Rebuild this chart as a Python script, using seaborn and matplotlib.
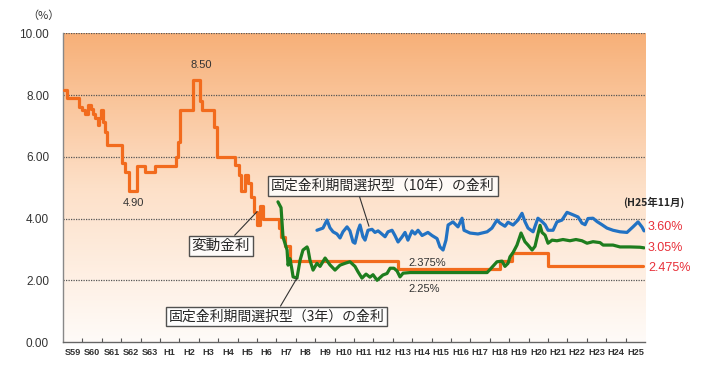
import numpy as np
import matplotlib
matplotlib.use("Agg")
import matplotlib.pyplot as plt
from matplotlib.colors import LinearSegmentedColormap
import seaborn as sns

# 変動金利 (orange) - change points, drawn as steps
var_year = [1984.05, 1984.20, 1984.85, 1985.00, 1985.15, 1985.30, 1985.45, 1985.55,
            1985.65, 1985.78, 1985.88, 1985.98, 1986.05, 1986.15, 1986.25, 1987.05,
            1987.20, 1987.40, 1987.80, 1988.25, 1988.75, 1989.80, 1989.95, 1990.05,
            1990.70, 1991.05, 1991.15, 1991.80, 1991.95, 1992.85, 1993.05, 1993.20,
            1993.40, 1993.55, 1993.70, 1993.85, 1993.98, 1994.15, 1994.30, 1995.15,
            1995.25, 1995.45, 1995.70, 2001.25, 2006.55, 2007.15, 2009.00, 2013.92]
var_rate = [8.16, 7.92, 7.62, 7.50, 7.38, 7.68, 7.56, 7.38,
            7.26, 7.02, 7.26, 7.50, 7.12, 6.80, 6.38, 5.80,
            5.50, 4.90, 5.70, 5.50, 5.70, 6.00, 6.48, 7.50,
            8.50, 7.80, 7.50, 6.96, 6.00, 5.75, 5.40, 4.90,
            5.40, 5.15, 4.70, 4.20, 3.80, 4.40, 4.00, 3.70,
            3.40, 3.10, 2.625, 2.375, 2.625, 2.875, 2.475, 2.475]

# 固定金利期間選択型(3年) (green)
fix3_year = [1995.08, 1995.24, 1995.34, 1995.55, 1995.60, 1995.70, 1995.80, 1995.86,
             1996.06, 1996.22, 1996.37, 1996.58, 1996.63, 1996.73, 1996.89, 1997.09,
             1997.25, 1997.51, 1997.76, 1998.02, 1998.28, 1998.54, 1998.79, 1999.05,
             1999.21, 1999.41, 1999.62, 1999.82, 1999.98, 2000.19, 2000.49, 2000.70,
             2000.86, 2001.06, 2001.22, 2001.37, 2001.53, 2001.89, 2005.86, 2006.01,
             2006.37, 2006.63, 2006.78, 2006.94, 2007.04, 2007.20, 2007.40, 2007.61,
             2007.81, 2007.97, 2008.18, 2008.33, 2008.43, 2008.59, 2008.69, 2008.85,
             2009.00, 2009.21, 2009.46, 2009.77, 2010.13, 2010.44, 2010.75, 2011.01,
             2011.32, 2011.68, 2011.84, 2012.35, 2012.71, 2013.23, 2013.74, 2013.95]
fix3_rate = [4.54, 4.35, 3.40, 2.98, 2.49, 2.70, 2.35, 2.11,
             2.07, 2.65, 2.98, 3.08, 3.00, 2.65, 2.33, 2.55,
             2.45, 2.72, 2.50, 2.33, 2.49, 2.55, 2.60, 2.45,
             2.27, 2.07, 2.20, 2.10, 2.18, 2.00, 2.17, 2.22,
             2.39, 2.39, 2.30, 2.11, 2.23, 2.25, 2.25, 2.35,
             2.60, 2.62, 2.45, 2.55, 2.76, 2.90, 3.14, 3.53,
             3.25, 3.14, 2.98, 3.10, 3.37, 3.78, 3.55, 3.46,
             3.20, 3.30, 3.28, 3.32, 3.28, 3.32, 3.28, 3.20,
             3.25, 3.22, 3.14, 3.14, 3.08, 3.08, 3.07, 3.05]

# 固定金利期間選択型(10年) (blue)
fix10_year = [1997.09, 1997.40, 1997.61, 1997.76, 1997.92, 1998.12, 1998.28, 1998.43,
              1998.64, 1998.79, 1998.95, 1999.05, 1999.21, 1999.31, 1999.46, 1999.57,
              1999.72, 1999.93, 2000.08, 2000.24, 2000.34, 2000.60, 2000.75, 2000.96,
              2001.11, 2001.27, 2001.47, 2001.63, 2001.78, 2001.99, 2002.14, 2002.30,
              2002.51, 2002.66, 2002.81, 2003.02, 2003.28, 2003.43, 2003.59, 2003.74,
              2003.85, 2004.10, 2004.36, 2004.57, 2004.67, 2004.98, 2005.39, 2005.86,
              2006.11, 2006.37, 2006.53, 2006.78, 2006.94, 2007.20, 2007.45, 2007.66,
              2007.81, 2007.97, 2008.23, 2008.48, 2008.69, 2008.85, 2009.00, 2009.26,
              2009.46, 2009.72, 2009.98, 2010.29, 2010.55, 2010.75, 2010.91, 2011.06,
              2011.32, 2011.53, 2011.78, 2012.04, 2012.35, 2012.71, 2013.07, 2013.38,
              2013.64, 2013.85, 2013.95]
fix10_rate = [3.62, 3.69, 3.95, 3.70, 3.57, 3.50, 3.37, 3.57,
              3.73, 3.60, 3.24, 3.20, 3.62, 3.79, 3.41, 3.30,
              3.62, 3.65, 3.55, 3.60, 3.55, 3.41, 3.57, 3.62,
              3.45, 3.24, 3.40, 3.55, 3.30, 3.60, 3.50, 3.62,
              3.45, 3.50, 3.55, 3.45, 3.35, 3.08, 2.98, 3.30,
              3.79, 3.89, 3.73, 4.01, 3.62, 3.53, 3.50, 3.57,
              3.69, 3.95, 3.85, 3.75, 3.88, 3.79, 3.95, 4.17,
              3.90, 3.69, 3.57, 4.01, 3.90, 3.80, 3.62, 3.62,
              3.89, 3.95, 4.20, 4.12, 4.05, 3.85, 3.80, 4.00,
              4.01, 3.90, 3.80, 3.69, 3.62, 3.57, 3.55, 3.73,
              3.89, 3.72, 3.60]

year_labels = ["S59", "S60", "S61", "S62", "S63", "H1", "H2", "H3", "H4", "H5",
               "H6", "H7", "H8", "H9", "H10", "H11", "H12", "H13", "H14", "H15",
               "H16", "H17", "H18", "H19", "H20", "H21", "H22", "H23", "H24", "H25"]
first_year = 1984
y_ticks = [0, 2, 4, 6, 8, 10]

C_ORANGE = "#F26B1D"
C_GREEN = "#1E7D1E"
C_BLUE = "#2272C3"
C_RED = "#E8303A"
JP = ["Noto Sans CJK JP", "DejaVu Sans"]
NUM = ["Liberation Sans", "DejaVu Sans"]

sns.set_style("white")
plt.rcParams["font.family"] = JP

fig = plt.figure(figsize=(7.11, 3.78), dpi=100)
ax = fig.add_axes([0.0886, 0.0952, 0.8186, 0.8167])

x0, x1 = first_year, first_year + len(year_labels)

# orange gradient background
grad = np.linspace(0, 1, 256).reshape(-1, 1)
cmap_bg = LinearSegmentedColormap.from_list("bg", ["#FFFBF8", "#FDE0C8", "#F7B078"])
ax.imshow(grad, extent=[x0, x1, 0, 10], origin="lower", aspect="auto",
          cmap=cmap_bg, zorder=0)

# dotted grid lines
for v in y_ticks[1:]:
    ax.axhline(v, color="#555555", lw=0.9, ls=(0, (1, 1)), zorder=1)

sns.lineplot(x=var_year, y=var_rate, color=C_ORANGE, lw=2.3,
             drawstyle="steps-post", ax=ax, zorder=3)
sns.lineplot(x=fix10_year, y=fix10_rate, color=C_BLUE, lw=2.3, ax=ax, zorder=4)
sns.lineplot(x=fix3_year, y=fix3_rate, color=C_GREEN, lw=2.3, ax=ax, zorder=5)

ax.set_xlim(x0, x1)
ax.set_ylim(0, 10)

# x axis: labels at year centres, small inner ticks at year boundaries
ax.set_xticks([first_year + i + 0.5 for i in range(len(year_labels))])
ax.set_xticklabels(year_labels, family=NUM, fontweight="bold",
                   fontsize=6.6, color="#333333")
ax.set_xticks([first_year + i for i in range(1, len(year_labels))], minor=True)
ax.tick_params(axis="x", which="major", length=0, pad=4)
ax.tick_params(axis="x", which="minor", direction="in", length=3,
               width=0.8, color="#555555", bottom=True)

ax.set_yticks(y_ticks)
ax.set_yticklabels([f"{v:.2f}" for v in y_ticks], family=NUM,
                   fontsize=8.5, color="#333333")
ax.tick_params(axis="y", length=0, pad=10)
ax.set_xlabel("")
ax.set_ylabel("")

for s in ["top", "right"]:
    ax.spines[s].set_visible(False)
ax.spines["left"].set_color("#888888")
ax.spines["bottom"].set_color("#666666")
ax.spines["left"].set_linewidth(1)
ax.spines["bottom"].set_linewidth(1)

fig.text(0.061, 0.958, "（%）", fontsize=8, color="#333333",
         ha="center", va="center")

# value notes
ax.text(1991.13, 8.96, "8.50", fontsize=8, color="#333333", ha="center", va="center",
        family=NUM)
ax.text(1987.61, 4.5, "4.90", fontsize=8, color="#333333", ha="center", va="center",
        family=NUM)
ax.text(2001.78, 2.57, "2.375%", fontsize=8, color="#333333", ha="left", va="center",
        family=NUM)
ax.text(2001.78, 1.72, "2.25%", fontsize=8, color="#333333", ha="left", va="center",
        family=NUM)

# latest values at the right
ax.text(2014.44, 4.51, "(H25年11月)", fontsize=7.5, fontweight="bold",
        ha="center", va="center", clip_on=False)
for val, label in [(3.73, "3.60%"), (3.06, "3.05%"), (2.40, "2.475%")]:
    ax.text(2014.15, val, label, fontsize=9, color=C_RED, ha="left", va="center",
            family=NUM, clip_on=False)

# labelled boxes with leader lines
box = dict(boxstyle="square,pad=0.2", fc="white", ec="#333333", lw=1, alpha=0.85)
ax.annotate("固定金利期間選択型（10年）の金利", xy=(1999.77, 3.75),
            xytext=(2000.49, 5.06), fontsize=10, ha="center", va="center", bbox=box,
            arrowprops=dict(arrowstyle="-", color="#333333", lw=0.8,
                            relpos=(0.39, 0), shrinkA=0, shrinkB=0), zorder=6)
ax.annotate("変動金利", xy=(1994.0, 4.22), xytext=(1992.14, 3.12),
            fontsize=10.5, ha="center", va="center", bbox=box,
            arrowprops=dict(arrowstyle="-", color="#333333", lw=0.8,
                            relpos=(0.68, 1), shrinkA=0, shrinkB=0), zorder=6)
ax.annotate("固定金利期間選択型（3年）の金利", xy=(1996.06, 2.07),
            xytext=(1995.0, 0.83), fontsize=10, ha="center", va="center", bbox=box,
            arrowprops=dict(arrowstyle="-", color="#333333", lw=0.8,
                            relpos=(0.51, 1), shrinkA=0, shrinkB=0), zorder=6)

fig.savefig("out.png", dpi=100)
